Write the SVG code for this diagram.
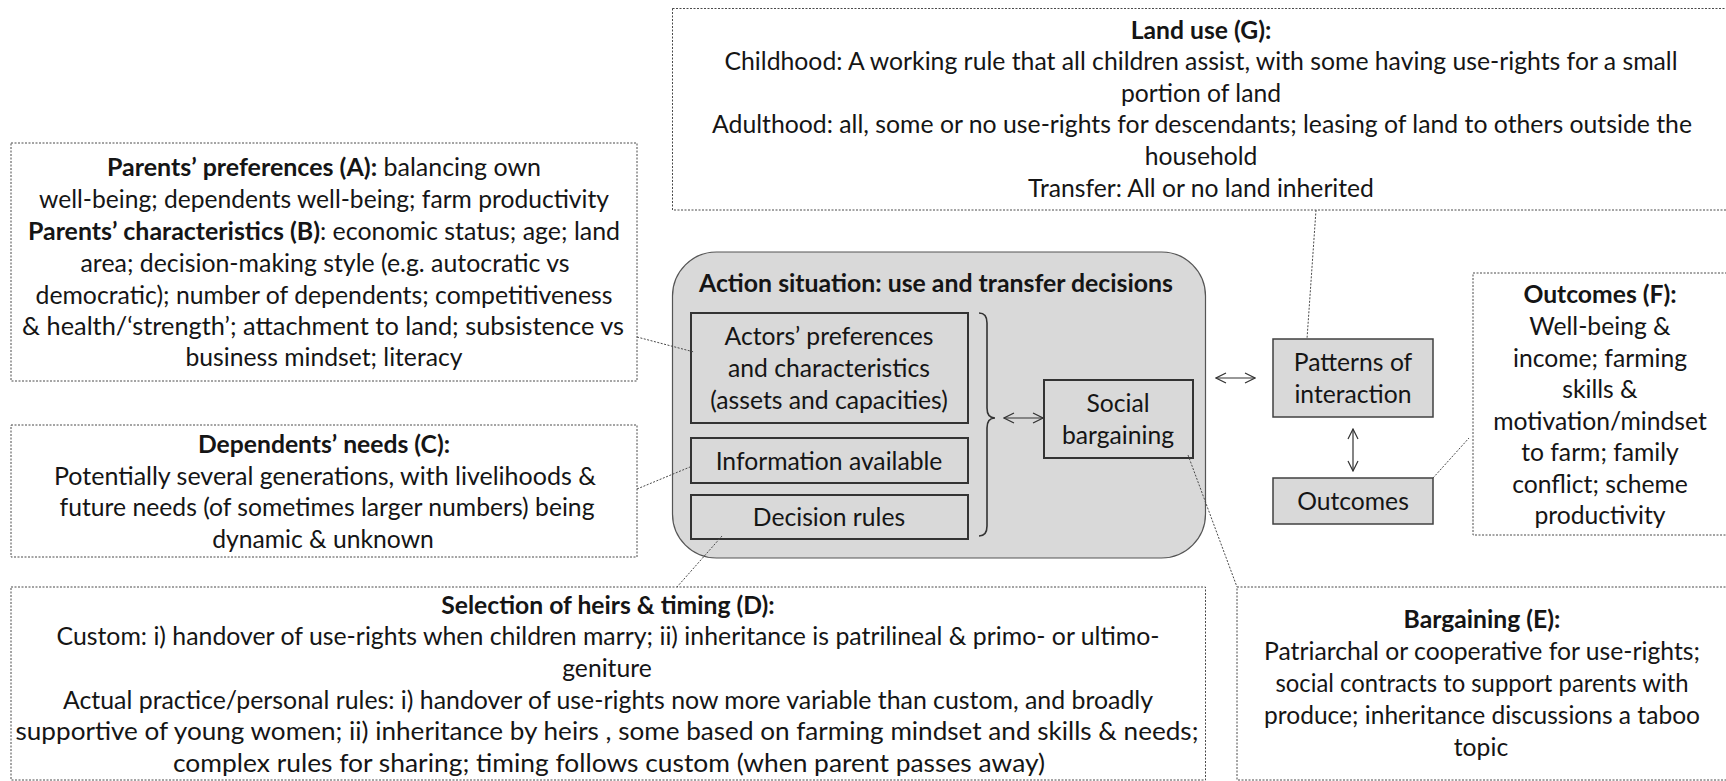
<svg xmlns="http://www.w3.org/2000/svg" width="1726" height="781" viewBox="0 0 1726 781">
  <style>
    .t { font-family: Lato, "Open Sans", "Liberation Sans", sans-serif; font-size: 24.7px; fill: #151515; text-anchor: middle; }
    .b { font-weight: bold; }
    .note { fill: #ffffff; stroke: #4a4a4a; stroke-width: 1; stroke-dasharray: 2 1.5; }
    .inner { fill: #d9d9d9; stroke: #333333; stroke-width: 2; }
    .conn { fill: none; stroke: #4a4a4a; stroke-width: 1; stroke-dasharray: 2 1.5; }
    .arr { fill: none; stroke: #333333; stroke-width: 1.2; marker-start: url(#head); marker-end: url(#head); }
  </style>
  <defs>
    <marker id="head" viewBox="0 0 12 12" refX="11" refY="6" markerWidth="12" markerHeight="12" markerUnits="userSpaceOnUse" orient="auto-start-reverse">
      <path d="M1,1 L11,6 L1,11" fill="none" stroke="#333333" stroke-width="1.2"/>
    </marker>
  </defs>
  <rect width="1726" height="781" fill="#ffffff"/>

  <!-- Land use (G) -->
  <g id="land-use">
    <rect class="note" x="672.5" y="8.5" width="1070" height="201.5"/>
    <text class="t b" x="1201" y="39">Land use (G):</text>
    <text class="t" x="1201" y="70" textLength="953" lengthAdjust="spacingAndGlyphs">Childhood: A working rule that all children assist, with some having use-rights for a small</text>
    <text class="t" x="1201" y="102">portion of land</text>
    <text class="t" x="1202" y="133" textLength="980" lengthAdjust="spacingAndGlyphs">Adulthood: all, some or no use-rights for descendants; leasing of land to others outside the</text>
    <text class="t" x="1201" y="165">household</text>
    <text class="t" x="1201" y="197">Transfer: All or no land inherited</text>
  </g>

  <!-- Parents' preferences and characteristics (A, B) -->
  <g id="parents">
    <rect class="note" x="11" y="143" width="626" height="238"/>
    <text class="t" x="324" y="176" textLength="434" lengthAdjust="spacingAndGlyphs"><tspan class="b">Parents’ preferences (A):</tspan> balancing own</text>
    <text class="t" x="324" y="208" textLength="570" lengthAdjust="spacingAndGlyphs">well-being; dependents well-being; farm productivity</text>
    <text class="t" x="324" y="240" textLength="592" lengthAdjust="spacingAndGlyphs"><tspan class="b">Parents’ characteristics (B)</tspan>: economic status; age; land</text>
    <text class="t" x="325" y="272" textLength="489" lengthAdjust="spacingAndGlyphs">area; decision-making style (e.g. autocratic vs</text>
    <text class="t" x="324" y="304" textLength="577" lengthAdjust="spacingAndGlyphs">democratic); number of dependents; competitiveness</text>
    <text class="t" x="323" y="335" textLength="602" lengthAdjust="spacingAndGlyphs">&amp; health/‘strength’;  attachment to land; subsistence vs</text>
    <text class="t" x="324" y="366">business mindset; literacy</text>
  </g>

  <!-- Dependents' needs (C) -->
  <g id="dependents">
    <rect class="note" x="11" y="425" width="626" height="132"/>
    <text class="t b" x="324" y="453">Dependents’ needs (C):</text>
    <text class="t" x="325" y="485" textLength="542" lengthAdjust="spacingAndGlyphs">Potentially several generations, with livelihoods &amp;</text>
    <text class="t" x="327" y="516" textLength="535" lengthAdjust="spacingAndGlyphs">future needs (of sometimes larger numbers) being</text>
    <text class="t" x="323" y="548">dynamic &amp; unknown</text>
  </g>

  <!-- Action situation -->
  <g id="action-situation">
    <rect x="672.5" y="252" width="533" height="306" rx="44" ry="44" fill="#d9d9d9" stroke="#555555" stroke-width="1.2"/>
    <text class="t b" x="936" y="292" textLength="474" lengthAdjust="spacingAndGlyphs">Action situation: use and transfer decisions</text>
  </g>
  <g id="actors">
    <rect class="inner" x="691" y="313" width="277" height="110"/>
    <text class="t" x="829" y="345">Actors’ preferences</text>
    <text class="t" x="829" y="377">and characteristics</text>
    <text class="t" x="829" y="409">(assets and capacities)</text>
  </g>
  <g id="information">
    <rect class="inner" x="691" y="438" width="277" height="45"/>
    <text class="t" x="829" y="470">Information available</text>
  </g>
  <g id="decision-rules">
    <rect class="inner" x="691" y="495" width="277" height="44"/>
    <text class="t" x="829" y="526">Decision rules</text>
  </g>
  <g id="brace">
    <path d="M979,313 Q987,313 987,323 L987,408 Q987,418 995,418 Q987,418 987,428 L987,526 Q987,536 979,536" fill="none" stroke="#333333" stroke-width="1.6"/>
  </g>
  <g id="social-bargaining">
    <rect class="inner" x="1044" y="380" width="149" height="78"/>
    <text class="t" x="1118" y="412">Social</text>
    <text class="t" x="1118" y="444">bargaining</text>
  </g>

  <!-- Patterns and outcomes -->
  <g id="patterns">
    <rect x="1273" y="339" width="160" height="78" fill="#d9d9d9" stroke="#404040" stroke-width="1.5"/>
    <text class="t" x="1353" y="371">Patterns of</text>
    <text class="t" x="1353" y="403">interaction</text>
  </g>
  <g id="outcomes">
    <rect x="1273" y="478" width="160" height="46" fill="#d9d9d9" stroke="#404040" stroke-width="1.5"/>
    <text class="t" x="1353" y="510">Outcomes</text>
  </g>

  <!-- Outcomes (F) -->
  <g id="outcomes-f">
    <rect class="note" x="1473" y="273" width="270" height="262"/>
    <text class="t b" x="1600" y="303">Outcomes (F):</text>
    <text class="t" x="1600" y="335">Well-being &amp;</text>
    <text class="t" x="1600" y="367">income; farming</text>
    <text class="t" x="1600" y="398">skills &amp;</text>
    <text class="t" x="1600" y="430">motivation/mindset</text>
    <text class="t" x="1600" y="461">to farm; family</text>
    <text class="t" x="1600" y="493">conflict; scheme</text>
    <text class="t" x="1600" y="524">productivity</text>
  </g>

  <!-- Selection of heirs & timing (D) -->
  <g id="heirs">
    <rect class="note" x="11" y="587" width="1194.5" height="193"/>
    <text class="t b" x="608" y="614">Selection of heirs &amp; timing (D):</text>
    <text class="t" x="608" y="645" textLength="1103" lengthAdjust="spacingAndGlyphs">Custom: i) handover of use-rights when children marry; ii) inheritance is patrilineal &amp; primo- or ultimo-</text>
    <text class="t" x="607" y="677">geniture</text>
    <text class="t" x="608" y="709" textLength="1090" lengthAdjust="spacingAndGlyphs">Actual practice/personal  rules: i) handover of use-rights now more variable than custom, and broadly</text>
    <text class="t" x="607" y="740" textLength="1183" lengthAdjust="spacingAndGlyphs">supportive of young women; ii) inheritance by heirs , some based on farming mindset and skills &amp; needs;</text>
    <text class="t" x="609" y="772" textLength="872" lengthAdjust="spacingAndGlyphs">complex rules for sharing;  timing follows custom (when parent passes away)</text>
  </g>

  <!-- Bargaining (E) -->
  <g id="bargaining">
    <rect class="note" x="1237" y="587" width="500" height="193"/>
    <text class="t b" x="1482" y="628">Bargaining (E):</text>
    <text class="t" x="1482" y="660" textLength="436" lengthAdjust="spacingAndGlyphs">Patriarchal or cooperative for use-rights;</text>
    <text class="t" x="1482" y="692" textLength="413" lengthAdjust="spacingAndGlyphs">social contracts to support parents with</text>
    <text class="t" x="1482" y="724" textLength="436" lengthAdjust="spacingAndGlyphs">produce; inheritance discussions a taboo</text>
    <text class="t" x="1481" y="756">topic</text>
  </g>

  <!-- connectors, drawn last so they sit over the boxes -->
  <g id="connectors">
    <line class="conn" x1="637" y1="337" x2="694" y2="352"/>
    <line class="conn" x1="637" y1="489" x2="690" y2="467"/>
    <line class="conn" x1="722" y1="536" x2="677" y2="587"/>
    <line class="conn" x1="1188" y1="455" x2="1237" y2="587"/>
    <line class="conn" x1="1316" y1="210" x2="1307" y2="339"/>
    <line class="conn" x1="1433" y1="478" x2="1469" y2="438"/>
    <line class="arr" x1="1004" y1="418" x2="1043" y2="418"/>
    <line class="arr" x1="1216" y1="378" x2="1255" y2="378"/>
    <line class="arr" x1="1353" y1="429" x2="1353" y2="471"/>
  </g>
</svg>
